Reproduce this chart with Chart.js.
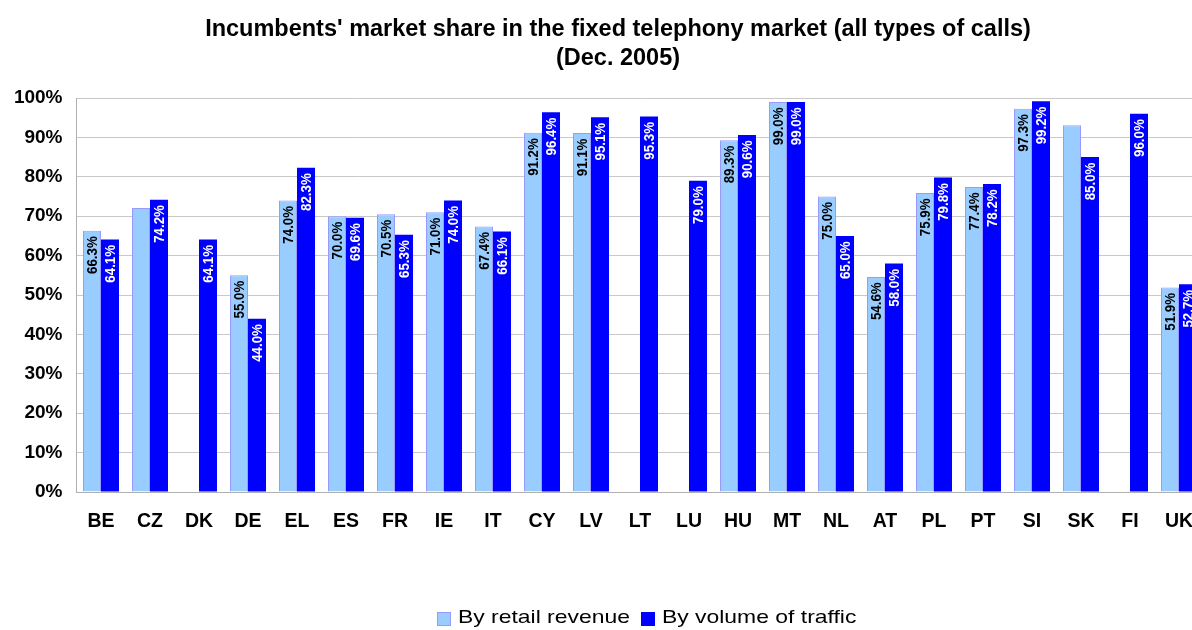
<!DOCTYPE html>
<html>
<head>
<meta charset="utf-8">
<script src="https://cdn.jsdelivr.net/npm/chart.js@4.4.1/dist/chart.umd.min.js"></script>
<style>
  html, body { margin: 0; padding: 0; background: #fff; overflow: hidden; width: 1192px; height: 630px; }
  #wrap { position: relative; width: 1236px; height: 630px; }
  .lgbox { position: absolute; width: 14px; height: 14px; box-sizing: border-box; }
  .lgtext { position: absolute; font-family: Arial, "Liberation Sans", sans-serif; font-size: 17.7px; line-height: 1;
            color: #000; white-space: nowrap; transform-origin: 0 0; transform: scaleX(1.295); }
</style>
</head>
<body>
<div id="wrap">
  <canvas id="c" width="1236" height="630"></canvas>
  <div id="legend"></div>
</div>
<script>
const categories = ["BE","CZ","DK","DE","EL","ES","FR","IE","IT","CY","LV","LT","LU","HU","MT","NL","AT","PL","PT","SI","SK","FI","UK"];
const retailRevenue = [66.3,72.1,null,55.0,74.0,70.0,70.5,71.0,67.4,91.2,91.1,null,null,89.3,99.0,75.0,54.6,75.9,77.4,97.3,93.1,null,51.9];
const volumeTraffic = [64.1,74.2,64.1,44.0,82.3,69.6,65.3,74.0,66.1,96.4,95.1,95.3,79.0,90.6,99.0,65.0,58.0,79.8,78.2,99.2,85.0,96.0,52.7];
// which values carry a data label in the original
const retailLabelShown = [true,false,false,true,true,true,true,true,true,true,true,false,false,true,true,true,true,true,true,true,false,false,true];
const volumeLabelShown = [true,true,true,true,true,true,true,true,true,true,true,true,true,true,true,true,true,true,true,true,true,true,true];
const seriesNames = ["By retail revenue","By volume of traffic"];
const titleLines = ["Incumbents' market share in the fixed telephony market (all types of calls)","(Dec. 2005)"];
const yTicks = [0,10,20,30,40,50,60,70,80,90,100];

const FONT = 'Arial, "Liberation Sans", sans-serif';

const labelPlugin = {
  id: 'barLabels',
  afterDatasetsDraw(chart) {
    const ctx = chart.ctx;
    const shown = [retailLabelShown, volumeLabelShown];
    const fs = 13.3;
    const capH = fs * 0.716;
    chart.data.datasets.forEach((ds, di) => {
      const meta = chart.getDatasetMeta(di);
      meta.data.forEach((bar, i) => {
        const v = ds.data[i];
        if (v == null || !shown[di][i]) return;
        ctx.save();
        ctx.translate(bar.x - 0.7, bar.y + 5.5);
        ctx.rotate(-Math.PI / 2);
        ctx.scale(1, 1.16);
        ctx.font = 'bold ' + fs + 'px ' + FONT;
        ctx.fillStyle = di === 0 ? '#000' : '#fff';
        ctx.textAlign = 'right';
        ctx.textBaseline = 'alphabetic';
        ctx.fillText(v.toFixed(1) + '%', 0, capH / 2);
        ctx.restore();
      });
    });
  }
};

const chart = new Chart(document.getElementById('c'), {
  type: 'bar',
  data: {
    labels: categories,
    datasets: [
      { label: seriesNames[0], data: retailRevenue, backgroundColor: '#99ccff', borderColor: '#9999ff', borderWidth: 1, borderSkipped: 'bottom' },
      { label: seriesNames[1], data: volumeTraffic, backgroundColor: '#0000ff', borderColor: '#0000ff', borderWidth: 0 }
    ]
  },
  options: {
    responsive: false,
    animation: false,
    devicePixelRatio: 1,
    layout: { padding: { left: 0, right: 0, top: 0, bottom: 98 } },
    datasets: { bar: { categoryPercentage: 0.735, barPercentage: 1.0, grouped: true } },
    plugins: {
      legend: { display: false },
      tooltip: { enabled: false },
      title: {
        display: true,
        text: titleLines,
        color: '#000',
        font: { family: FONT, size: 23.5, weight: 'bold', lineHeight: 29 / 23.5 },
        padding: { top: 15.5, bottom: 24.5 }
      }
    },
    scales: {
      x: {
        offset: true,
        afterFit(axis) { axis.height = 40; },
        grid: { display: false, drawTicks: false },
        border: { display: true, color: '#b0b0b0', width: 1 },
        ticks: { color: '#000', font: { family: FONT, size: 19.5, weight: 'bold' }, padding: 18, maxRotation: 0, autoSkip: false }
      },
      y: {
        min: 0, max: 100,
        afterFit(axis) { axis.width = 76.5; },
        afterBuildTicks(axis) { axis.ticks = yTicks.map(v => ({ value: v })); },
        grid: { color: '#c8c8c8', lineWidth: 1, drawTicks: false },
        border: { display: true, color: '#b0b0b0', width: 1 },
        ticks: { color: '#000', font: { family: FONT, size: 19, weight: 'bold' }, padding: 14, callback: v => v + '%' }
      },
      yRightSpace: {
        type: 'linear',
        position: 'right',
        min: 0, max: 100,
        afterFit(axis) { axis.width = 32.5; },
        grid: { display: false, drawTicks: false },
        border: { display: false },
        ticks: { display: false }
      }
    }
  },
  plugins: [labelPlugin]
});

// legend built from the chart's own datasets
const lg = document.getElementById('legend');
const legendX = [[437, 458], [641, 662]];
chart.data.datasets.forEach((ds, k) => {
  const box = document.createElement('div'); box.className = 'lgbox';
  box.style.left = legendX[k][0] + 'px'; box.style.top = '611.5px';
  box.style.background = ds.backgroundColor;
  box.style.border = '1px solid ' + ds.borderColor;
  const t = document.createElement('div'); t.className = 'lgtext';
  t.style.left = legendX[k][1] + 'px'; t.style.top = '609px';
  t.textContent = ds.label;
  lg.appendChild(box); lg.appendChild(t);
});
</script>
</body>
</html>
